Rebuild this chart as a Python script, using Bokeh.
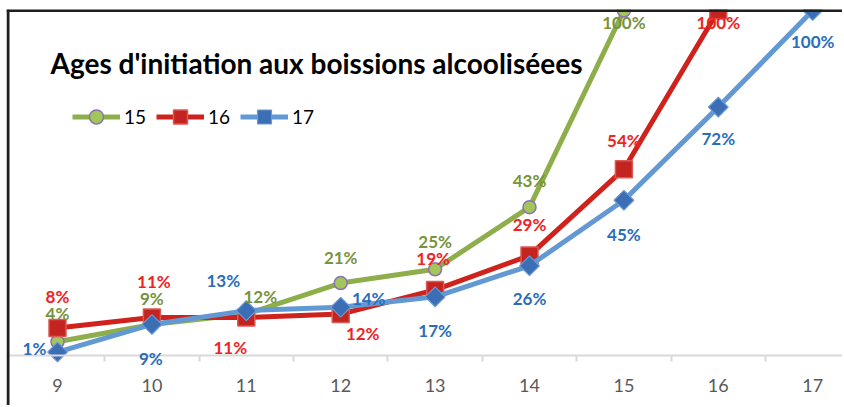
import math
from bokeh.plotting import figure
from bokeh.models import (ColumnDataSource, FixedTicker, Span, Label, Legend,
                          LegendItem, Range1d, LabelSet)
from bokeh.core.properties import value
from bokeh.embed import file_html
from bokeh.resources import INLINE

# ---- data ----
CATS = [9, 10, 11, 12, 13, 14, 15, 16, 17]
SERIES_NAMES = ["15", "16", "17"]
S15 = [4, 9, 12, 21, 25, 43, 100]
S16 = [8, 11, 11, 12, 19, 29, 54, 100]
S17 = [1, 9, 13, 14, 17, 26, 45, 72, 100]
TITLE = "Ages d'initiation aux boissions alcooliséees"

# ---- label placement (screen px, +y downward) ----
OFF15 = [(0, -28), (0, -26), (14, -18), (0, -26), (0, -28), (0, -27), (0, 12)]
OFF16 = [(0, -31), (2, -36), (-16, 30), (22, 19), (-2, -31), (0, -31), (0, -29), (0, 12)]
OFF17 = [(-23, -4), (-1, 34), (-23, -30), (28, -9), (0, 34), (0, 33), (0, 34), (0, 31), (0, 31)]

FONT = "Lato"
PX_PER_PCT = 3.45

W, H = 842, 405
X0 = 8.4597
Y0 = -(H - 355) / PX_PER_PCT
p = figure(width=W, height=H, output_backend="svg", toolbar_location=None,
           x_range=Range1d(X0, X0 + (W - 6) / 94.4), y_range=Range1d(Y0, 100.29),
           min_border_left=6, min_border_right=0, min_border_top=9,
           min_border_bottom=0)
p.outline_line_color = None
p.xgrid.visible = False
p.ygrid.visible = False
p.yaxis.visible = False
p.background_fill_color = "white"
p.border_fill_color = "white"

ax = p.xaxis[0]
ax.fixed_location = 0
ax.ticker = FixedTicker(ticks=CATS, minor_ticks=[c + 0.5 for c in CATS[:-1]])
ax.axis_line_color = "#D9D9D9"
ax.axis_line_width = 2
ax.major_tick_line_color = None
ax.major_tick_out = 0
ax.major_tick_in = 0
ax.minor_tick_line_color = "#D9D9D9"
ax.minor_tick_line_width = 2
ax.minor_tick_out = 6
ax.minor_tick_in = 0
ax.major_label_text_font = FONT
ax.major_label_text_font_size = "18px"
ax.major_label_text_color = "#595959"
ax.major_label_standoff = 17

styles = [
    dict(vals=S15, off=OFF15, line="#8DAE4B", marker="circle", size=13, angle=0,
         fill="#A2C65A", mline="#8E6FB8", mw=1.5, lab="#77933C"),
    dict(vals=S16, off=OFF16, line="#D0221C", marker="square", size=17, angle=0,
         fill="#C42420", mline="#D85A56", mw=1.5, lab="#EE2424"),
    dict(vals=S17, off=OFF17, line="#6399D3", marker="square", size=14, angle=math.pi / 4,
         fill="#3C6EB5", mline="#6A9AD6", mw=1.2, lab="#2A6EBB"),
]

p.add_layout(Span(location=X0 + 1.5 / 94.4, dimension="height", line_color="#1E1E1E", line_width=3))
p.add_layout(Span(location=100, dimension="width", line_color="#1E1E1E", line_width=3))

items = []
label_sources = []
for name, st in zip(SERIES_NAMES, styles):
    n = len(st["vals"])
    src = ColumnDataSource(dict(
        x=CATS[:n], y=st["vals"],
        txt=[f"{v}%" for v in st["vals"]],
        dx=[o[0] for o in st["off"]], dy=[-o[1] for o in st["off"]],
    ))
    r_line = p.line("x", "y", source=src, line_color=st["line"], line_width=5)
    r_mk = p.scatter("x", "y", source=src, marker=st["marker"], size=st["size"],
                     angle=st["angle"], fill_color=st["fill"],
                     line_color=st["mline"], line_width=st["mw"])
    items.append(LegendItem(label=name, renderers=[r_line, r_mk]))
    label_sources.append((src, st["lab"]))

for src, col in label_sources:
    p.add_layout(LabelSet(x="x", y="y", text="txt", source=src,
                          x_offset="dx", y_offset="dy",
                          text_align="center", text_baseline="middle",
                          text_font=value(FONT), text_font_style="bold",
                          text_font_size="17px", text_color=col))

legend = Legend(items=items, orientation="horizontal", location=(66, 271),
                glyph_width=48, glyph_height=35, label_standoff=4, spacing=10,
                padding=0, margin=0, border_line_color=None,
                background_fill_alpha=0,
                label_text_font=FONT, label_text_font_size="19px",
                label_text_color="#000000")
p.add_layout(legend, "center")

p.add_layout(Label(x=44, y=293 + (H - 355), x_units="screen", y_units="screen", text=TITLE,
                   text_font=FONT, text_font_style="bold", text_font_size="28px",
                   text_color="#000000", text_baseline="middle", text_align="left"))

open("out.html", "w").write(file_html(p, INLINE))
